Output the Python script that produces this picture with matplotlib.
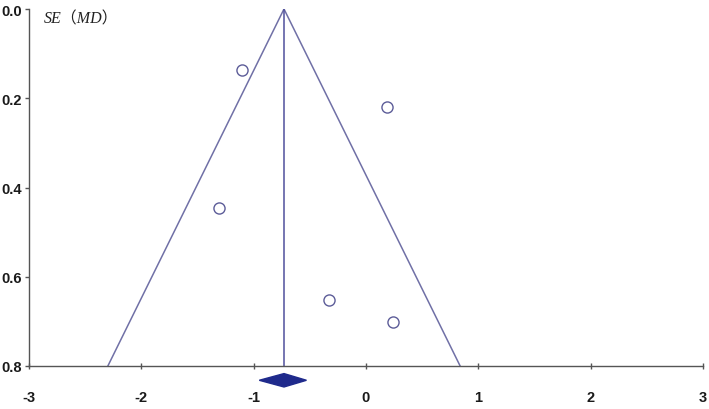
import matplotlib.pyplot as plt

# данные воронкообразного графика
md = [-1.10, 0.19, -1.31, -0.33, 0.24]
se = [0.136, 0.219, 0.446, 0.652, 0.702]
pooled = -0.73
ci_low, ci_high = -0.95, -0.53
se_max = 0.8
x_ticks = [-3, -2, -1, 0, 1, 2, 3]
y_ticks = [0.0, 0.2, 0.4, 0.6, 0.8]

fig = plt.figure(figsize=(7.09, 4.10), dpi=100)
ax = fig.add_axes([29 / 709, 1 - 367 / 410, (703 - 29) / 709, (367 - 10) / 410])

line_col = '#7070a6'
# границы воронки
ax.plot([pooled - 1.96 * se_max, pooled, pooled + 1.96 * se_max], [se_max, 0, se_max],
        color=line_col, lw=1.1)
ax.plot([pooled, pooled], [0, se_max], color='#50509c', lw=1.1)

ax.plot(md, se, 'o', mfc='white', mec='#5c5c98', mew=1.0, ms=8)

# ромб суммарного эффекта под осью
dy = 0.015
yd = 0.832
ax.fill([ci_low, pooled, ci_high, pooled], [yd, yd - dy, yd, yd + dy],
        color='#1f2a8c', clip_on=False, zorder=5)

ax.set_xlim(-3, 3)
ax.set_ylim(se_max, 0)
ax.set_xticks(x_ticks)
ax.set_yticks(y_ticks)
ax.set_xticklabels([str(t) for t in x_ticks])
ax.set_yticklabels([f'{t:.1f}' for t in y_ticks])

for s in ['top', 'right']:
    ax.spines[s].set_visible(False)
for s in ['left', 'bottom']:
    ax.spines[s].set_color('#555555')
    ax.spines[s].set_linewidth(1.0)

ax.tick_params(axis='x', direction='inout', length=5, width=1, color='#555555', pad=15)
ax.tick_params(axis='y', direction='out', length=3, width=1, color='#555555', pad=2)
for lab in ax.get_xticklabels() + ax.get_yticklabels():
    lab.set_fontfamily(['Liberation Sans Narrow', 'Liberation Sans'])
    lab.set_fontweight('bold')
    lab.set_fontsize(10.5)
    lab.set_color('#1a1a1a')

ax.text(0.022, 0.995, 'SE（MD）', transform=ax.transAxes, ha='left', va='top',
        fontsize=11.5, style='italic', family=['Liberation Serif', 'Noto Sans CJK SC'],
        color='#222222')

fig.savefig('out.png', dpi=100)
